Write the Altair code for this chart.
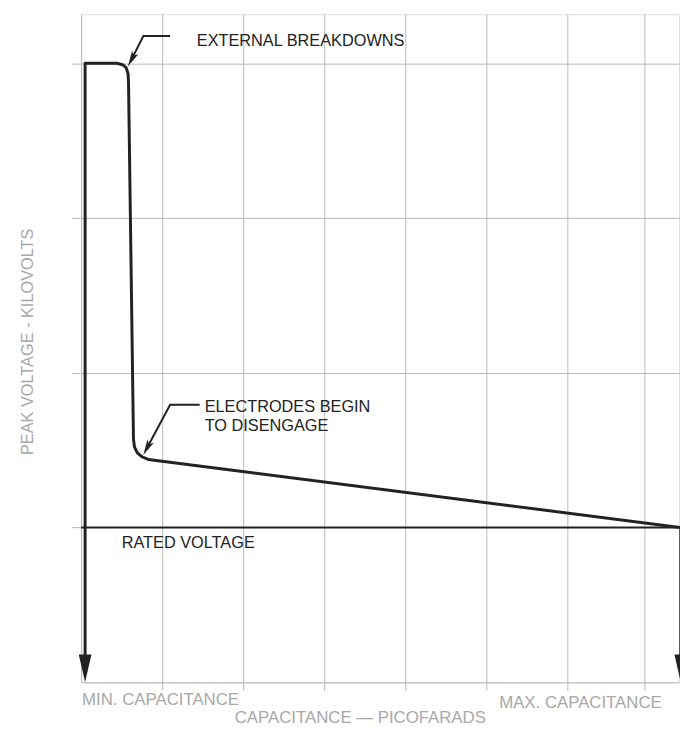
import altair as alt
import pandas as pd

# ---------------- data (x: grid divisions of capacitance, y: grid divisions of kV) ----------------
curve_x = [0.049, 0.049, 0.439, 0.512, 0.555, 0.579, 0.585, 0.646, 0.659, 0.695, 0.756, 0.829, 7.40, 7.40]
curve_y = [0.09, 4.0, 4.0, 3.991, 3.972, 3.934, 3.870, 1.571, 1.520, 1.481, 1.456, 1.440, 1.0, 0.09]

rated_voltage = [1.0]

x_grid = [1, 2, 3, 4, 5, 6, 6.95]
y_grid = [1, 2, 3, 4]
X_MAX = 7.378
Y_MAX = 4.317

# annotation leader lines
lead_group = ["ext", "ext", "ext", "el", "el", "el"]
lead_x = [1.098, 0.768, 0.622, 1.463, 1.098, 0.813]
lead_y = [4.176, 4.176, 4.025, 1.794, 1.794, 1.514]

# leader arrowheads (centres)
lead_head_x = [0.622, 0.813]
lead_head_y = [4.025, 1.514]

# curve end arrowheads (centres)
end_head_x = [0.049, 7.40]
end_head_y = [0.09, 0.09]

# annotation texts
ann_text = ["EXTERNAL  BREAKDOWNS", "ELECTRODES BEGIN\nTO DISENGAGE", "RATED VOLTAGE"]
ann_x = [1.427, 1.524, 0.5]
ann_y = [4.112, 1.748, 0.868]

# end-of-axis labels
end_text = ["MIN. CAPACITANCE", "MAX. CAPACITANCE"]
end_x = [0.012, 5.159]
end_y = [-0.147, -0.165]

X_TITLE = "CAPACITANCE — PICOFARADS"
Y_TITLE = "PEAK VOLTAGE - KILOVOLTS"

# ---------------- styling ----------------
FONT = "Liberation Sans"
INK = "#222222"
GRID = "#b8b8b8"
LABEL = "#a8a8a8"

curve_df = pd.DataFrame({"i": list(range(len(curve_x))), "x": curve_x, "y": curve_y})
rated_df = pd.DataFrame({"y": rated_voltage})
lead_df = pd.DataFrame({"g": lead_group, "i": list(range(len(lead_x))), "x": lead_x, "y": lead_y})
lead_head_df = pd.DataFrame({"x": lead_head_x, "y": lead_head_y})
end_head_df = pd.DataFrame({"x": end_head_x, "y": end_head_y})
ann_df = pd.DataFrame({"t": ann_text, "x": ann_x, "y": ann_y})
end_df = pd.DataFrame({"t": end_text, "x": end_x, "y": end_y})

xs = alt.Scale(domain=[0, X_MAX], nice=False, zero=False)
ys = alt.Scale(domain=[0, Y_MAX], nice=False, zero=False)

x_axis = alt.Axis(
    values=x_grid, labels=False, ticks=True, tickSize=8, tickColor=GRID, tickWidth=1,
    grid=True, gridColor=GRID, gridWidth=1, gridOpacity=1,
    domain=True, domainColor=GRID, domainWidth=1,
    title=X_TITLE, titleX=282, titleY=41, titleAlign="center", titleBaseline="alphabetic",
    titleFont=FONT, titleFontSize=17, titleFontWeight="normal", titleColor=LABEL,
)
y_axis = alt.Axis(
    values=y_grid, labels=False, ticks=True, tickSize=10, tickColor=GRID, tickWidth=1,
    grid=True, gridColor=GRID, gridWidth=1, gridOpacity=1,
    domain=True, domainColor=GRID, domainWidth=1,
    title=Y_TITLE, titleX=-49, titleY=331, titleAngle=270, titleAlign="center",
    titleBaseline="alphabetic",
    titleFont=FONT, titleFontSize=16.5, titleFontWeight="normal", titleColor=LABEL,
)

X = alt.X("x:Q", scale=xs, axis=x_axis)
Y = alt.Y("y:Q", scale=ys, axis=y_axis)

curve = alt.Chart(curve_df).mark_line(
    color=INK, strokeWidth=3, strokeJoin="round", strokeCap="butt"
).encode(x=X, y=Y, order="i:Q")

rated = alt.Chart(rated_df).mark_rule(color=INK, strokeWidth=2).encode(y=Y)

leaders = alt.Chart(lead_df).mark_line(color=INK, strokeWidth=2).encode(
    x=X, y=Y, detail="g:N", order="i:Q"
)

lead_heads = alt.Chart(lead_head_df).mark_point(
    shape="M0,1L-0.45,-1L0,-0.55L0.45,-1Z", filled=True, color=INK, opacity=1,
    size=256, angle=28, strokeWidth=0
).encode(x=X, y=Y)

end_heads = alt.Chart(end_head_df).mark_point(
    shape="M0,1L-0.46,-1L0.46,-1Z", filled=True, color=INK, opacity=1,
    size=784, strokeWidth=0
).encode(x=X, y=Y)

ann = alt.Chart(ann_df).mark_text(
    align="left", baseline="alphabetic", font=FONT, fontSize=16.5, color=INK,
    lineBreak="\n", lineHeight=19
).encode(x=X, y=Y, text="t:N")

ends = alt.Chart(end_df).mark_text(
    align="left", baseline="alphabetic", font=FONT, fontSize=17, color=LABEL
).encode(x=X, y=Y, text="t:N")

chart = alt.layer(curve, rated, leaders, lead_heads, end_heads, ann, ends).properties(
    width=605,
    height=676,
    autosize=alt.AutoSizeParams(type="none"),
    padding={"left": 74, "top": 2, "right": 1, "bottom": 50},
).configure_view(stroke=None).configure(background="white")

chart.save("out.html", embed_options={"renderer": "svg", "actions": False})
